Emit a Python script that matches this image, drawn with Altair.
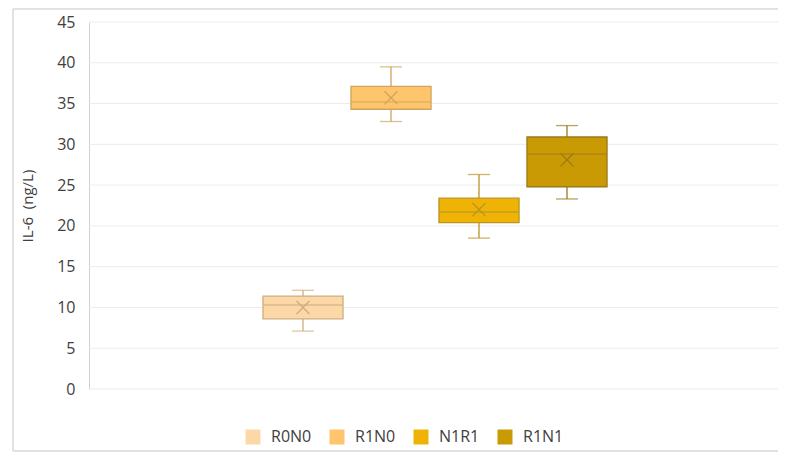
import altair as alt
import pandas as pd

groups = ["R0N0", "R1N0", "N1R1", "R1N1"]
lower = [7.1, 32.8, 18.5, 23.3]
q1 = [8.6, 34.3, 20.4, 24.8]
median = [10.3, 35.2, 21.7, 28.8]
q3 = [11.4, 37.1, 23.4, 30.9]
upper = [12.1, 39.5, 26.3, 32.3]
mean = [10.0, 35.7, 22.0, 28.1]
y_ticks = [0, 5, 10, 15, 20, 25, 30, 35, 40, 45]

fills = ["#FCD8A6", "#FEC56C", "#EFB306", "#C99A03"]
strokes = ["#CDAE80", "#D0A45C", "#B99524", "#9A7A1A"]

df = pd.DataFrame({"group": groups, "g2": groups, "lower": lower, "q1": q1,
                   "median": median, "q3": q3, "upper": upper, "mean": mean})
grid_df = pd.DataFrame({"v": y_ticks})

FONT = "Open Sans"
W, H = 689, 367

xenc = alt.X("group:N", sort=groups, axis=None,
             scale=alt.Scale(range=[170, 522], paddingInner=0.09, paddingOuter=0.045))
fill_scale = alt.Scale(domain=groups, range=fills)
# stroke scale: data-derived (alphabetical) domain so its legend does not merge with the fill legend
stroke_map = dict(zip(groups, strokes))
stroke_scale = alt.Scale(range=[stroke_map[g] for g in sorted(groups)])
yscale = alt.Scale(domain=[0, 45])
scol = alt.Color("g2:N", scale=stroke_scale, legend=None)

base = alt.Chart(df)
one = alt.Chart(pd.DataFrame({"k": [0]}))
FR = dict(color="#D9D9D9", strokeWidth=1.5)
frame_top = one.mark_rule(**FR).encode(x=alt.value(-76), x2=alt.value(W + 8), y=alt.value(-13))
frame_bot = one.mark_rule(**FR).encode(x=alt.value(-76), x2=alt.value(W + 8), y=alt.value(429))
frame_left = one.mark_rule(**FR).encode(x=alt.value(-76), y=alt.value(-13), y2=alt.value(429))

grid = alt.Chart(grid_df).mark_rule(color="#EBEBEB", strokeWidth=1).encode(
    y=alt.Y("v:Q", scale=yscale,
            axis=alt.Axis(values=y_ticks, title="IL-6\u00a0\u00a0(ng/L)",
                          grid=False, domainColor="#D0D0D0",
                          ticks=False, labelPadding=14, titlePadding=21,
                          labelFont=FONT, labelFontSize=16, labelColor="#404040",
                          titleFont=FONT, titleFontSize=15, titleColor="#404040",
                          titleFontWeight="normal"))
)

whisker = base.mark_rule(strokeWidth=1.3).encode(
    x=xenc, y=alt.Y("lower:Q", scale=yscale), y2="upper:Q", color=scol)

caps_lo = base.mark_tick(size=22, thickness=1.3).encode(
    x=xenc, y=alt.Y("lower:Q", scale=yscale), color=scol)
caps_hi = base.mark_tick(size=22, thickness=1.3).encode(
    x=xenc, y=alt.Y("upper:Q", scale=yscale), color=scol)

box = base.mark_bar(strokeWidth=1.3).encode(
    x=xenc,
    y=alt.Y("q1:Q", scale=yscale),
    y2="q3:Q",
    fill=alt.Fill("group:N", scale=fill_scale, sort=groups,
                  legend=alt.Legend(title=None, orient="none", direction="horizontal",
                                    legendX=156, legendY=407, padding=0,
                                    symbolType="square", symbolSize=225,
                                    symbolStrokeWidth=0,
                                    labelFont=FONT, labelFontSize=16, labelColor="#404040",
                                    columnPadding=17, labelOffset=10)),
    stroke=alt.Stroke("g2:N", scale=stroke_scale, legend=None),
)

med = base.mark_tick(size=80, thickness=1.3).encode(
    x=xenc, y=alt.Y("median:Q", scale=yscale), color=scol)

mn = base.mark_point(shape="M-1,-1L1,1M-1,1L1,-1", size=170, filled=False,
                     strokeWidth=1.3, opacity=1).encode(
    x=xenc, y=alt.Y("mean:Q", scale=yscale), color=scol)

chart = alt.layer(frame_top, frame_bot, frame_left, grid, whisker, caps_lo, caps_hi,
                  box, med, mn).properties(
    width=W, height=H,
    padding={"left": 81, "top": 14, "right": 0, "bottom": 63},
    autosize=alt.AutoSizeParams(type="none"),
).configure_view(stroke=None)

chart.save("out.html", embed_options={"renderer": "svg", "actions": False})
